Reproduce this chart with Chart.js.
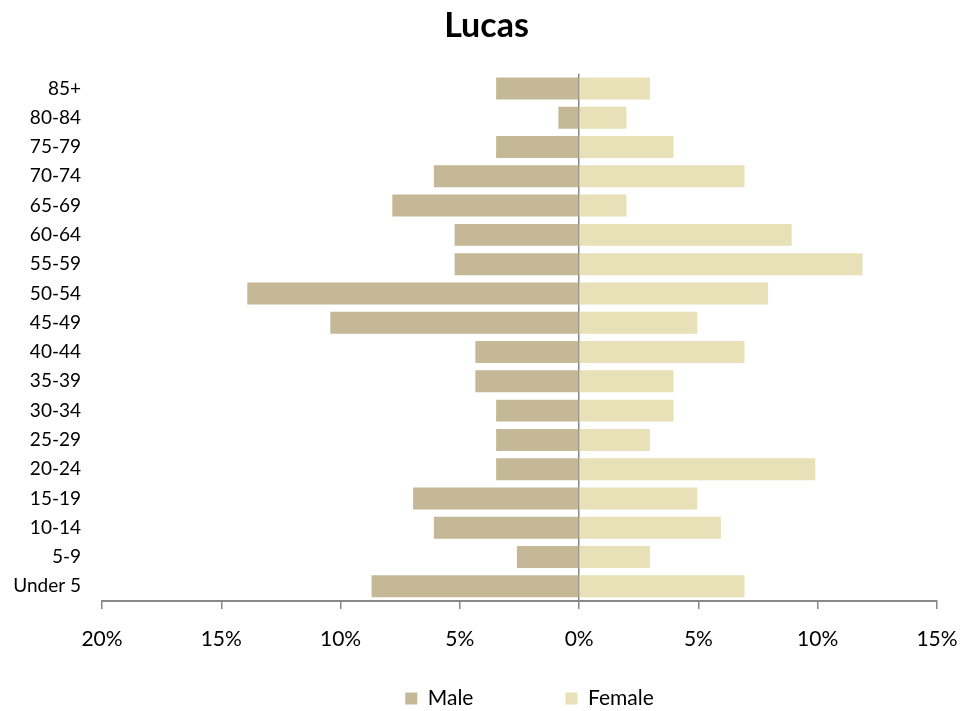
<!DOCTYPE html>
<html>
<head>
<meta charset="utf-8">
<script src="https://cdn.jsdelivr.net/npm/chart.js@4"></script>
<style>
  html, body { margin: 0; padding: 0; background: #fff; }
  #wrap { width: 979px; height: 711px; }
</style>
</head>
<body>
<div id="wrap"><canvas id="pyramid"></canvas></div>
<script>
// Age groups, top to bottom as in the picture
const ageGroups = ["85+", "80-84", "75-79", "70-74", "65-69", "60-64", "55-59", "50-54", "45-49",
  "40-44", "35-39", "30-34", "25-29", "20-24", "15-19", "10-14", "5-9", "Under 5"];

// Share of population (%), males drawn to the left
const malePct = [3.48, 0.87, 3.48, 6.09, 7.83, 5.22, 5.22, 13.91, 10.43,
  4.35, 4.35, 3.48, 3.48, 3.48, 6.96, 6.09, 2.61, 8.70];
const femalePct = [2.97, 1.98, 3.96, 6.93, 1.98, 8.91, 11.88, 7.92, 4.95,
  6.93, 3.96, 3.96, 2.97, 9.90, 4.95, 5.94, 2.97, 6.93];

const xTicks = [-20, -15, -10, -5, 0, 5, 10, 15];

const FONT = "Lato, 'Open Sans', sans-serif";

// title is centred on the whole canvas, legend sits right of centre
const blockShift = {
  id: "blockShift",
  afterLayout(chart) {
    chart.titleBlock.left += 18;
    chart.titleBlock.right += 18;
    chart.legend.left += 61;
    chart.legend.right += 61;
    chart.legend.top += 8;
    chart.legend.bottom += 8;
  },
};

new Chart(document.getElementById("pyramid"), {
  type: "bar",
  data: {
    labels: ageGroups,
    datasets: [
      {
        label: "Male",
        data: malePct.map((v) => -v),
        backgroundColor: "#C4B896",
        barPercentage: 0.75,
        categoryPercentage: 1,
      },
      {
        label: "Female",
        data: femalePct,
        backgroundColor: "#E8E0B6",
        barPercentage: 0.75,
        categoryPercentage: 1,
      },
    ],
  },
  plugins: [blockShift],
  options: {
    indexAxis: "y",
    responsive: true,
    maintainAspectRatio: false,
    animation: false,
    layout: { padding: { left: 0, right: 42, top: 0, bottom: 0 } },
    plugins: {
      title: {
        display: true,
        text: "Lucas",
        color: "#000",
        font: { family: FONT, size: 34, weight: "bold" },
        padding: { top: 6, bottom: 27 },
      },
      legend: {
        position: "bottom",
        labels: {
          color: "#000",
          font: { family: FONT, size: 21 },
          boxWidth: 12,
          boxHeight: 12,
          padding: 6,
          generateLabels: (chart) =>
            Chart.defaults.plugins.legend.labels.generateLabels(chart).map((l, i) => ({
              ...l,
              text: i === 0 ? l.text + "                " : l.text,
              lineWidth: 0,
            })),
        },
      },
      tooltip: { enabled: false },
    },
    scales: {
      x: {
        min: -20,
        max: 15,
        afterBuildTicks: (scale) => {
          scale.ticks = xTicks.map((v) => ({ value: v }));
        },
        ticks: {
          color: "#000",
          font: { family: FONT, size: 21 },
          padding: 18,
          callback: (v) => Math.abs(v) + "%",
        },
        grid: {
          color: (ctx) => (ctx.tick && ctx.tick.value === 0 ? "#888" : "rgba(0,0,0,0)"),
          tickColor: "#888",
          tickLength: 8,
          lineWidth: 1.5,
        },
        border: { color: "#888", width: 2 },
        afterFit: (scale) => {
          scale.height = 73;
        },
      },
      y: {
        stacked: true,
        grid: { display: false },
        border: { display: false },
        ticks: {
          color: "#000",
          font: { family: FONT, size: 19 },
          padding: 13,
          autoSkip: false,
        },
        afterFit: (scale) => {
          scale.width = 102;
        },
      },
    },
  },
});
</script>
</body>
</html>
